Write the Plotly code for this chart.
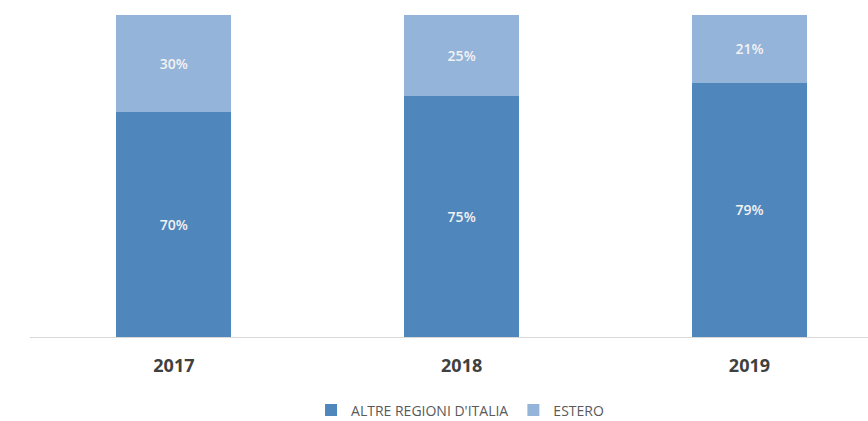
import plotly.graph_objects as go

years = ["2017", "2018", "2019"]
altre = [70, 75, 79]
estero = [30, 25, 21]
altre_labels = ["70%", "75%", "79%"]
estero_labels = ["30%", "25%", "21%"]

dark = "#4F86BC"
light = "#95B4DA"

fig = go.Figure()
fig.add_trace(go.Bar(
    x=years, y=altre, name="ALTRE REGIONI D'ITALIA",
    marker=dict(color=dark, line=dict(width=0)),
    text=altre_labels, textposition="inside", insidetextanchor="middle",
    textfont=dict(color="#F2F2F2", size=14, family="Open Sans", weight=600),
    width=0.4,
))
fig.add_trace(go.Bar(
    x=years, y=estero, name="ESTERO",
    marker=dict(color=light, line=dict(width=0)),
    text=estero_labels, textposition="inside", insidetextanchor="middle",
    textfont=dict(color="#F2F2F2", size=14, family="Open Sans", weight=600),
    width=0.4,
))

fig.update_layout(
    width=868, height=421,
    barmode="stack",
    margin=dict(l=30, r=0, t=15, b=84),
    paper_bgcolor="white", plot_bgcolor="white",
    showlegend=True,
    legend=dict(
        orientation="h", xref="container", yref="container",
        x=0.53, xanchor="center", y=0.025, yanchor="middle",
        font=dict(family="Open Sans", size=14, color="#595959"),
        traceorder="normal", itemwidth=30,
    ),
    xaxis=dict(
        type="category", range=[-0.5, 2.412],
        showline=True, linecolor="#D9D9D9", linewidth=1,
        showgrid=False, ticks="", ticklabelstandoff=12,
        tickfont=dict(family="Open Sans", size=18, color="#404040", weight="bold"),
    ),
    yaxis=dict(
        range=[0, 100], visible=False, showgrid=False,
    ),
)

fig.write_html(
    "out.html",
    config={"displayModeBar": False},
    post_script="document.body.style.margin='0';document.body.style.overflow='hidden';",
)
